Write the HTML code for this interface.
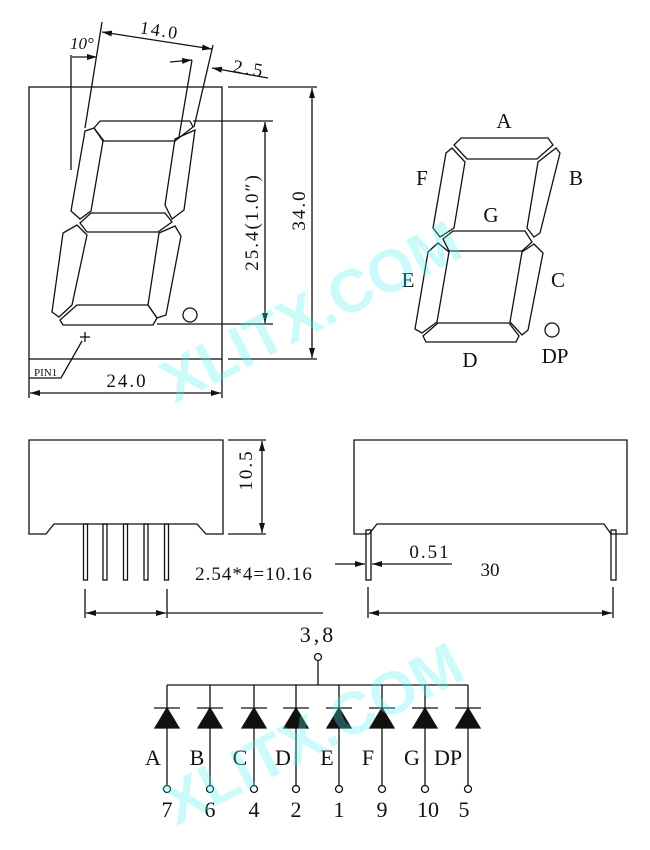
<!DOCTYPE html>
<html><head><meta charset="utf-8"><style>
html,body{margin:0;padding:0;background:#fff;}
svg{display:block;}
text{font-family:"Liberation Serif","Noto Serif CJK SC",serif;fill:#111;}
</style></head><body>
<svg width="650" height="850" viewBox="0 0 650 850" xmlns="http://www.w3.org/2000/svg">
<defs>
<marker id="ar" viewBox="0 0 10 6" refX="10" refY="3" markerWidth="10" markerHeight="6" orient="auto-start-reverse" markerUnits="userSpaceOnUse"><path d="M0,0L10,3L0,6z" fill="#111"/></marker>
</defs>
<g fill="none" stroke="#111" stroke-width="1.3">
<rect x="29" y="87" width="193" height="272"/>
<polygon points="94,128 100,121 190,121 193,127 175,141 104,141"/>
<polygon points="175,139 195,130 184,210 172,219 165,205"/>
<polygon points="85,131 94,128 103,141 91,211 80,219 71,211"/>
<polygon points="80,223 91,213 165,213 172,222 158,232 87,232"/>
<polygon points="77,225 63,233 52,312 59,317 72,305 87,235"/>
<polygon points="175,226 181,236 166,315 157,318 148,305 159,233"/>
<polygon points="60,320 77,305 148,305 157,318 153,325 63,325"/>
<circle cx="190" cy="315" r="7"/>
<line x1="71" y1="55" x2="71" y2="170"/>
<line x1="102" y1="22" x2="85" y2="128"/>
<line x1="72" y1="57" x2="97" y2="57" marker-end="url(#ar)"/>
<line x1="102" y1="32" x2="212" y2="49" marker-start="url(#ar)" marker-end="url(#ar)"/>
<line x1="213" y1="45" x2="194" y2="127"/>
<line x1="192" y1="60" x2="179" y2="137"/>
<line x1="170" y1="62" x2="192" y2="60" marker-end="url(#ar)"/>
<line x1="268" y1="78" x2="212" y2="68" marker-end="url(#ar)"/>
<line x1="193" y1="121" x2="273" y2="121"/>
<line x1="157" y1="324" x2="273" y2="324"/>
<line x1="265" y1="122" x2="265" y2="323" marker-start="url(#ar)" marker-end="url(#ar)"/>
<line x1="228" y1="87" x2="317" y2="87"/>
<line x1="228" y1="359" x2="317" y2="359"/>
<line x1="312" y1="88" x2="312" y2="358" marker-start="url(#ar)" marker-end="url(#ar)"/>
<line x1="29" y1="359" x2="29" y2="398"/>
<line x1="222" y1="359" x2="222" y2="398"/>
<line x1="30" y1="393" x2="221" y2="393" marker-start="url(#ar)" marker-end="url(#ar)"/>
<polyline points="29,378 61,378 82,341"/>
<line x1="80" y1="337" x2="90" y2="337"/><line x1="85" y1="332" x2="85" y2="342"/>
<polygon points="461,138 548,138 553,145 537,159 467,159 454,145"/>
<polygon points="556,148 560,153 540,233 534,237 527,228 538,162"/>
<polygon points="452,148 446,153 433,228 440,237 454,228 465,162"/>
<polygon points="443,239 453,231 525,231 532,242 522,251 449,251"/>
<polygon points="438,243 428,252 415,329 422,333 437,322 449,252"/>
<polygon points="534,244 543,253 528,330 522,335 510,322 522,252"/>
<polygon points="423,336 438,323 509,323 519,336 516,342 426,342"/>
<circle cx="552" cy="330" r="7"/>
<polygon points="29,440 223,440 223,534 206,534 197,524 54,524 46,534 29,534"/>
<rect x="83.5" y="524" width="4" height="56"/>
<rect x="103" y="524" width="4" height="56"/>
<rect x="123.5" y="524" width="4" height="56"/>
<rect x="144" y="524" width="4" height="56"/>
<rect x="164.5" y="524" width="4" height="56"/>
<line x1="228" y1="440" x2="266" y2="440"/>
<line x1="228" y1="534" x2="266" y2="534"/>
<line x1="262" y1="441" x2="262" y2="533" marker-start="url(#ar)" marker-end="url(#ar)"/>
<line x1="85" y1="589" x2="85" y2="618"/>
<line x1="167" y1="589" x2="167" y2="618"/>
<line x1="86" y1="613" x2="166" y2="613" marker-start="url(#ar)" marker-end="url(#ar)"/>
<line x1="167" y1="613" x2="323" y2="613"/>
<polygon points="354,440 627,440 627,534 611,534 604,524 377,524 369,534 354,534"/>
<rect x="366" y="530" width="5" height="50"/>
<rect x="611" y="530" width="5" height="50"/>
<line x1="335" y1="564" x2="365" y2="564" marker-end="url(#ar)"/>
<line x1="452" y1="564" x2="372" y2="564" marker-end="url(#ar)"/>
<line x1="368" y1="587" x2="368" y2="618"/>
<line x1="613" y1="587" x2="613" y2="618"/>
<line x1="369" y1="613" x2="612" y2="613" marker-start="url(#ar)" marker-end="url(#ar)"/>
<circle cx="318" cy="657" r="3.5"/>
<line x1="318" y1="661" x2="318" y2="685"/>
<line x1="167" y1="685" x2="468" y2="685"/>
</g>
<g stroke="#111" stroke-width="1.3" fill="#111">
<g transform="translate(167,0)"><line x1="0" y1="685" x2="0" y2="785"/><line x1="-13" y1="708" x2="13" y2="708"/><polygon points="0,708 -12,728 12,728"/><circle cx="0" cy="789" r="3.5" fill="#fff"/></g>
<g transform="translate(210,0)"><line x1="0" y1="685" x2="0" y2="785"/><line x1="-13" y1="708" x2="13" y2="708"/><polygon points="0,708 -12,728 12,728"/><circle cx="0" cy="789" r="3.5" fill="#fff"/></g>
<g transform="translate(254,0)"><line x1="0" y1="685" x2="0" y2="785"/><line x1="-13" y1="708" x2="13" y2="708"/><polygon points="0,708 -12,728 12,728"/><circle cx="0" cy="789" r="3.5" fill="#fff"/></g>
<g transform="translate(296,0)"><line x1="0" y1="685" x2="0" y2="785"/><line x1="-13" y1="708" x2="13" y2="708"/><polygon points="0,708 -12,728 12,728"/><circle cx="0" cy="789" r="3.5" fill="#fff"/></g>
<g transform="translate(339,0)"><line x1="0" y1="685" x2="0" y2="785"/><line x1="-13" y1="708" x2="13" y2="708"/><polygon points="0,708 -12,728 12,728"/><circle cx="0" cy="789" r="3.5" fill="#fff"/></g>
<g transform="translate(382,0)"><line x1="0" y1="685" x2="0" y2="785"/><line x1="-13" y1="708" x2="13" y2="708"/><polygon points="0,708 -12,728 12,728"/><circle cx="0" cy="789" r="3.5" fill="#fff"/></g>
<g transform="translate(425,0)"><line x1="0" y1="685" x2="0" y2="785"/><line x1="-13" y1="708" x2="13" y2="708"/><polygon points="0,708 -12,728 12,728"/><circle cx="0" cy="789" r="3.5" fill="#fff"/></g>
<g transform="translate(468,0)"><line x1="0" y1="685" x2="0" y2="785"/><line x1="-13" y1="708" x2="13" y2="708"/><polygon points="0,708 -12,728 12,728"/><circle cx="0" cy="789" r="3.5" fill="#fff"/></g>
</g>
<g font-size="19">
<text x="70" y="49" font-style="italic" font-size="17">10°</text>
<text x="140" y="36" transform="rotate(9 158 30)" font-size="18" letter-spacing="2">14.0</text>
<text x="233" y="75" transform="rotate(9 250 68)" font-size="19" letter-spacing="3">2.5</text>
<text x="0" y="0" transform="translate(258,222) rotate(-90)" text-anchor="middle" font-size="19" letter-spacing="2">25.4(1.0″)</text>
<text x="0" y="0" transform="translate(305,210) rotate(-90)" text-anchor="middle" font-size="19" letter-spacing="2">34.0</text>
<text x="127" y="387" text-anchor="middle" font-size="19" letter-spacing="2">24.0</text>
<text x="34" y="376" font-family="Liberation Sans,sans-serif" font-size="11">PIN1</text>
<text x="504" y="128" text-anchor="middle" font-size="21">A</text>
<text x="422" y="185" text-anchor="middle" font-size="21">F</text>
<text x="576" y="185" text-anchor="middle" font-size="21">B</text>
<text x="491" y="222" text-anchor="middle" font-size="21">G</text>
<text x="408" y="287" text-anchor="middle" font-size="21">E</text>
<text x="558" y="287" text-anchor="middle" font-size="21">C</text>
<text x="470" y="367" text-anchor="middle" font-size="21">D</text>
<text x="555" y="363" text-anchor="middle" font-size="21">DP</text>
<text x="0" y="0" transform="translate(252,470) rotate(-90)" text-anchor="middle" font-size="19" letter-spacing="2">10.5</text>
<text x="254" y="580" text-anchor="middle" font-size="19" letter-spacing="1">2.54*4=10.16</text>
<text x="430" y="558" text-anchor="middle" font-size="19" letter-spacing="2">0.51</text>
<text x="490" y="576" text-anchor="middle" font-size="19">30</text>
<text x="318" y="642" text-anchor="middle" font-size="22" letter-spacing="3">3,8</text>
<text x="153" y="765" text-anchor="middle" font-size="22">A</text>
<text x="197" y="765" text-anchor="middle" font-size="22">B</text>
<text x="240" y="765" text-anchor="middle" font-size="22">C</text>
<text x="283" y="765" text-anchor="middle" font-size="22">D</text>
<text x="327" y="765" text-anchor="middle" font-size="22">E</text>
<text x="368" y="765" text-anchor="middle" font-size="22">F</text>
<text x="412" y="765" text-anchor="middle" font-size="22">G</text>
<text x="448" y="765" text-anchor="middle" font-size="22">DP</text>
<text x="167" y="817" text-anchor="middle" font-size="22">7</text>
<text x="210" y="817" text-anchor="middle" font-size="22">6</text>
<text x="254" y="817" text-anchor="middle" font-size="22">4</text>
<text x="296" y="817" text-anchor="middle" font-size="22">2</text>
<text x="339" y="817" text-anchor="middle" font-size="22">1</text>
<text x="382" y="817" text-anchor="middle" font-size="22">9</text>
<text x="428" y="817" text-anchor="middle" font-size="22">10</text>
<text x="464" y="817" text-anchor="middle" font-size="22">5</text>
</g>
<g font-family="Liberation Sans,sans-serif" font-size="60" font-weight="bold">
<text x="0" y="0" transform="translate(320,330) rotate(-27)" text-anchor="middle" style="fill:rgba(80,240,240,0.3);font-family:'Liberation Sans',sans-serif">XLITX.COM</text>
<text x="0" y="0" transform="translate(322,752) rotate(-27)" text-anchor="middle" style="fill:rgba(80,240,240,0.3);font-family:'Liberation Sans',sans-serif">XLITX.COM</text>
</g>
</svg>
</body></html>
